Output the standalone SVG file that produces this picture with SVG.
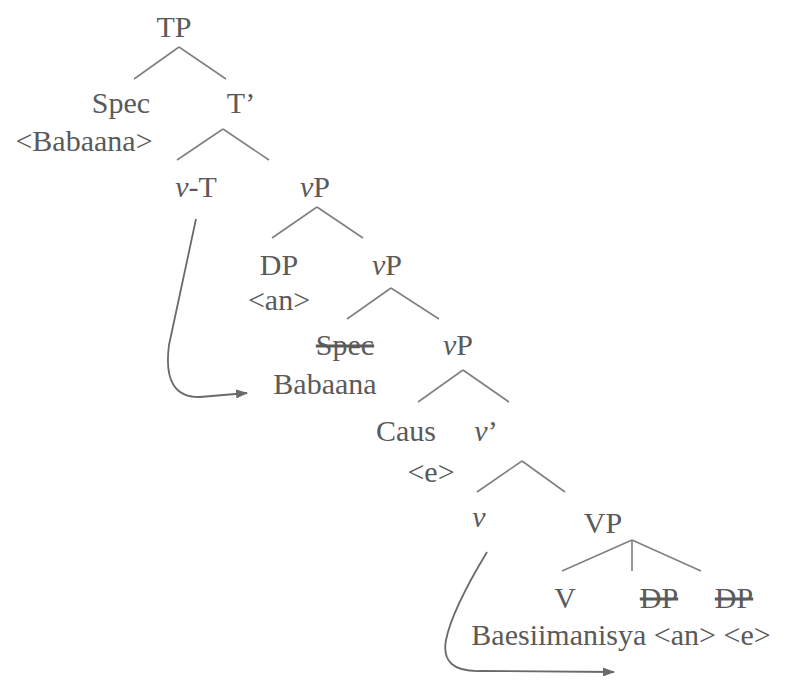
<svg xmlns="http://www.w3.org/2000/svg" width="785" height="680" viewBox="0 0 785 680">
<style>
text{font-family:"Times New Roman","Liberation Serif",Tinos,"DejaVu Serif",serif;font-size:30px;fill:#5a5a5a;text-anchor:middle}
.i{font-style:italic}
.s{text-decoration:line-through}
.br line{stroke:#808080;stroke-width:1.6}
.mv{fill:none;stroke:#6a6a6a;stroke-width:1.8}
</style>
<defs>
<marker id="ah" markerWidth="12" markerHeight="9" refX="11" refY="4.5" orient="auto" markerUnits="userSpaceOnUse" viewBox="0 0 12 9">
<path d="M0,0 L12,4.5 L0,9 z" fill="#6a6a6a"/>
</marker>
</defs>
<rect width="785" height="680" fill="#fff"/>
<g id="TP"><text x="174" y="37">TP</text></g>
<g id="Spec"><text x="121" y="113">Spec</text><text x="84" y="151">&lt;Babaana&gt;</text></g>
<g id="Tbar"><text x="241" y="113">T’</text></g>
<g id="vT"><text x="196" y="197"><tspan class="i">v</tspan>-T</text></g>
<g id="vP1"><text x="315" y="197"><tspan class="i">v</tspan>P</text></g>
<g id="DP"><text x="279" y="275">DP</text><text x="279" y="310">&lt;an&gt;</text></g>
<g id="vP2"><text x="387" y="275"><tspan class="i">v</tspan>P</text></g>
<g id="Spec2"><text x="345" y="355" class="s">Spec</text><text x="325" y="394">Babaana</text></g>
<g id="vP3"><text x="458" y="355"><tspan class="i">v</tspan>P</text></g>
<g id="Caus"><text x="406" y="441">Caus</text><text x="431" y="482">&lt;e&gt;</text></g>
<g id="vbar"><text x="486" y="441"><tspan class="i">v</tspan>’</text></g>
<g id="v"><text x="479" y="527" class="i">v</text></g>
<g id="VP"><text x="603" y="533">VP</text></g>
<g id="V"><text x="565" y="608">V</text></g>
<g id="DP2"><text x="659" y="608" class="s">DP</text></g>
<g id="DP3"><text x="734" y="608" class="s">DP</text></g>
<g id="Baes"><text x="621" y="645">Baesiimanisya &lt;an&gt; &lt;e&gt;</text></g>
<g id="connectors">
<g class="br">
<line x1="179" y1="47" x2="134" y2="79"/><line x1="179" y1="47" x2="226" y2="79"/>
<line x1="223" y1="129" x2="177" y2="160"/><line x1="223" y1="129" x2="269" y2="160"/>
<line x1="317" y1="207" x2="272" y2="238"/><line x1="317" y1="207" x2="363" y2="238"/>
<line x1="391" y1="288" x2="347" y2="319"/><line x1="391" y1="288" x2="439" y2="319"/>
<line x1="463" y1="370" x2="418" y2="402"/><line x1="463" y1="370" x2="509" y2="402"/>
<line x1="522" y1="461" x2="477" y2="492"/><line x1="522" y1="461" x2="565" y2="492"/>
<line x1="632" y1="540" x2="562" y2="571"/><line x1="632" y1="540" x2="632" y2="571"/><line x1="632" y1="540" x2="701" y2="571"/>
</g>
<path class="mv" d="M196,219 L169,345 Q162,398 200,397 L247,393" marker-end="url(#ah)"/>
<path class="mv" d="M487,552 Q452,610 446,640 Q440,672 480,671 L614,672" marker-end="url(#ah)"/>
</g>
</svg>
